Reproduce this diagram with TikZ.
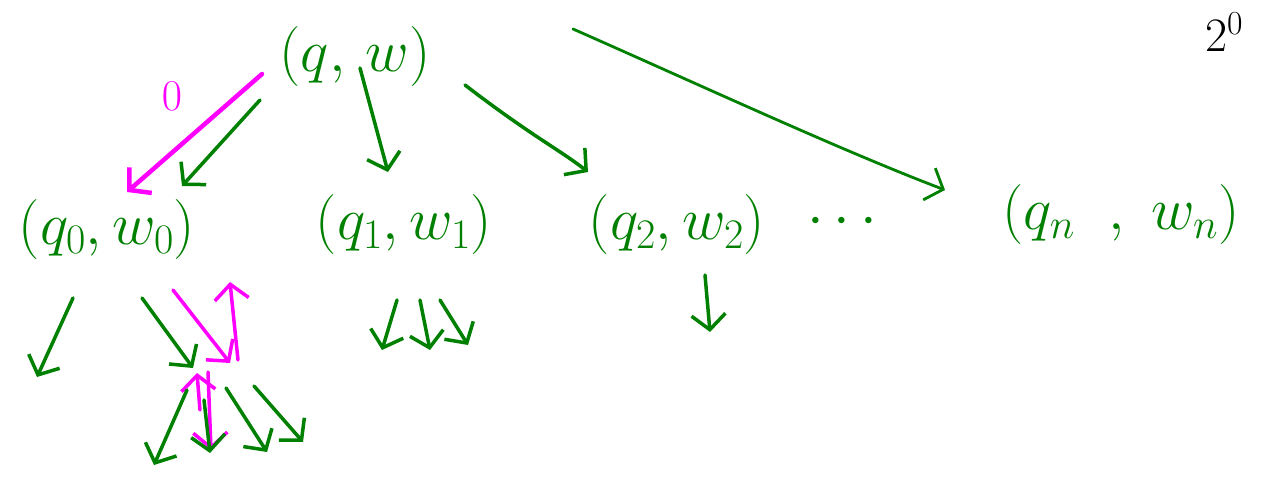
\RequirePackage{fix-cm}
\documentclass[tikz,border=0pt]{standalone}
\usetikzlibrary{arrows.meta}
\definecolor{pen}{RGB}{0,128,0}
\definecolor{hi}{RGB}{255,0,255}
\tikzset{
  state/.style={text=pen, font=\fontsize{60}{72}\selectfont, inner sep=0pt},
  garrow/.style={draw=pen, line width=3.5pt, line cap=round, line join=round,
    -{Straight Barb[length=15pt,width=34pt]}},
  marrow/.style={garrow, draw=hi},
  lbl/.style={font=\fontsize{44}{52}\selectfont, inner sep=0pt},
}
\begin{document}
\begin{tikzpicture}[x=1pt,y=-1pt]
\useasboundingbox (0,0) rectangle (1270,478);
% states
\node[state] (top) at (355,57) {$\Bigl(q,\,w\Bigr)$};
\node[state] (q0) at (107,230) {$\Bigl(q_0,w_0\Bigr)$};
\node[state] (q1) at (404,225) {$\Bigl(q_1,w_1\Bigr)$};
\node[state] (q2) at (677,225) {$\Bigl(q_2,w_2\Bigr)$};
\node[state] (dots) at (842,222) {$\cdots$};
\node[state] (qn) at (1121,215) {$\Bigl(q_n\;\;,\;w_n\Bigr)$};
\node[font=\fontsize{48}{56}\selectfont, inner sep=0pt, text=black, anchor=base west] (exp) at (1205,52) {$2^{0}$};
% transitions from (q,w)
\draw[garrow] ([shift={(-95,43)}]top.center) -- ([shift={(75,-44)}]q0.center);
\draw[marrow, line width=4.5pt] ([shift={(-93,17)}]top.center) -- ([shift={(20,-38)}]q0.center);
\node[lbl, text=hi] (zero) at (172,96) {$0$};
\draw[garrow] ([shift={(5,11)}]top.center) -- ([shift={(-16,-53)}]q1.center);
\draw[garrow] ([shift={(110,28)}]top.center) .. controls (530,135) and (560,150) .. ([shift={(-89,-53)}]q2.center);
\draw[garrow, line width=2.8pt] ([shift={(218,-28)}]top.center) .. controls (700,85) and (840,150) .. ([shift={(-176,-25)}]qn.center);
% free ends below the states
\coordinate (a0) at (37,377);
\coordinate (b0) at (193,368);
\coordinate (c0) at (230,363);
\coordinate (c0up) at (230,282);
\coordinate (e0) at (211,450);
\coordinate (e0up) at (197,373);
\coordinate (f1) at (154,465);
\coordinate (f2) at (210,453);
\coordinate (f3) at (267,452);
\coordinate (f4) at (303,442);
\coordinate (g1) at (382,350);
\coordinate (g2) at (430,350);
\coordinate (g3) at (468,345);
\coordinate (h1) at (710,332);
% children of (q0,w0)
\draw[garrow] ([shift={(-34,68)}]q0.center) -- (a0);
\draw[garrow] ([shift={(35,68)}]q0.center) -- (b0);
\draw[marrow] ([shift={(66,60)}]q0.center) -- (c0);
\draw[marrow] (238,360) -- (c0up);
\draw[marrow] (208,372) -- (e0);
\draw[marrow] (200,410) -- (e0up);
\draw[garrow] ([shift={(-6,22)}]b0) -- (f1);
\draw[garrow] ([shift={(11,32)}]b0) -- (f2);
\draw[garrow] ([shift={(33,20)}]b0) -- (f3);
\draw[garrow] ([shift={(61,18)}]b0) -- (f4);
% children of (q1,w1)
\draw[garrow] ([shift={(-7,75)}]q1.center) -- (g1);
\draw[garrow] ([shift={(16,75)}]q1.center) -- (g2);
\draw[garrow] ([shift={(36,75)}]q1.center) -- (g3);
% child of (q2,w2)
\draw[garrow] ([shift={(28,50)}]q2.center) -- (h1);
\end{tikzpicture}
\end{document}
